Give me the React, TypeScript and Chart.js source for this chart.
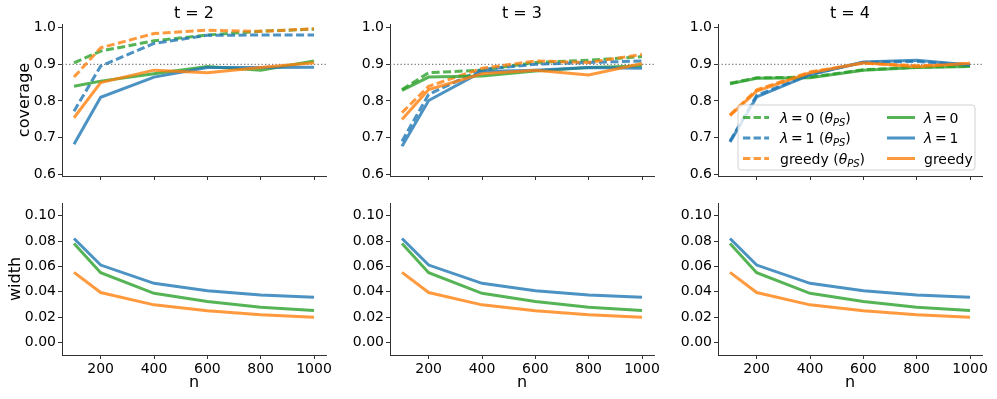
import React, { useEffect, useRef } from 'react';
import { Chart, registerables } from 'chart.js';

Chart.register(...registerables);

// ---------------- data ----------------
const nValues = [100, 200, 400, 600, 800, 1000];
const xTicks = [200, 400, 600, 800, 1000];
const coverageTicks = [0.6, 0.7, 0.8, 0.9, 1.0];
const widthTicks = [0, 0.02, 0.04, 0.06, 0.08, 0.1];
const tValues = [2, 3, 4];
const targetCoverage = 0.9;

// t = 2
const covT2Lam0PS = [0.904, 0.936, 0.964, 0.98, 0.99, 0.996];
const covT2Lam1PS = [0.772, 0.895, 0.957, 0.979, 0.98, 0.98];
const covT2GreedyPS = [0.865, 0.945, 0.984, 0.993, 0.99, 0.997];
const covT2Lam0 = [0.84, 0.854, 0.874, 0.894, 0.884, 0.909];
const covT2Lam1 = [0.682, 0.81, 0.865, 0.891, 0.891, 0.892];
const covT2Greedy = [0.754, 0.85, 0.884, 0.877, 0.891, 0.904];

// t = 3
const covT3Lam0PS = [0.831, 0.877, 0.884, 0.905, 0.911, 0.921];
const covT3Lam1PS = [0.69, 0.818, 0.886, 0.9, 0.905, 0.909];
const covT3GreedyPS = [0.768, 0.84, 0.889, 0.909, 0.905, 0.927];
const covT3Lam0 = [0.829, 0.865, 0.868, 0.882, 0.891, 0.895];
const covT3Lam1 = [0.676, 0.801, 0.88, 0.884, 0.891, 0.889];
const covT3Greedy = [0.749, 0.831, 0.874, 0.884, 0.871, 0.902];

// t = 4
const covT4Lam0PS = [0.848, 0.863, 0.865, 0.885, 0.892, 0.895];
const covT4Lam1PS = [0.69, 0.815, 0.873, 0.905, 0.908, 0.897];
const covT4GreedyPS = [0.762, 0.83, 0.879, 0.903, 0.896, 0.902];
const covT4Lam0 = [0.847, 0.862, 0.863, 0.884, 0.891, 0.894];
const covT4Lam1 = [0.688, 0.811, 0.871, 0.906, 0.911, 0.898];
const covT4Greedy = [0.76, 0.827, 0.877, 0.904, 0.893, 0.903];

// interval width (same for every t)
const widthLam0 = [0.078, 0.055, 0.0387, 0.0322, 0.0277, 0.0251];
const widthLam1 = [0.082, 0.061, 0.0466, 0.0408, 0.0374, 0.0356];
const widthGreedy = [0.0552, 0.0393, 0.0296, 0.0249, 0.0217, 0.0199];

const coverageByT = [
  { ps: [covT2Lam0PS, covT2Lam1PS, covT2GreedyPS], plain: [covT2Lam0, covT2Lam1, covT2Greedy] },
  { ps: [covT3Lam0PS, covT3Lam1PS, covT3GreedyPS], plain: [covT3Lam0, covT3Lam1, covT3Greedy] },
  { ps: [covT4Lam0PS, covT4Lam1PS, covT4GreedyPS], plain: [covT4Lam0, covT4Lam1, covT4Greedy] },
];
const widthSeries = [widthLam0, widthLam1, widthGreedy];

// ---------------- styles ----------------
const FONT = "'DejaVu Sans', sans-serif";
const COLORS = ['rgba(44,160,44,0.8)', 'rgba(31,119,180,0.8)', 'rgba(255,127,14,0.8)'];
const DASH = [8, 3.5];
const LW = 3;
const AXIS = '#333333';

const PLOT_W = 264;
const PLOT_H = 152;
const Y_AXIS_W = 62;
const RIGHT_PAD = 14;
const TOP_PAD = 24;
const PLOT_LEFTS = [62, 390, 718];
const ROW_CANVAS_TOP = [0, 179];
const ROW_XAXIS_H = [26, 44];
const ROW_YTITLE_PAD = [15, 6.5];

type Part = { t: string; i?: boolean; sub?: boolean };

function drawRich(ctx: CanvasRenderingContext2D, x: number, y: number, parts: Part[]) {
  let cx = x;
  for (const p of parts) {
    const size = p.sub ? 10 : 14;
    ctx.font = `${p.i ? 'italic ' : ''}${size}px ${FONT}`;
    ctx.fillText(p.t, cx, y + (p.sub ? 3 : 0));
    cx += ctx.measureText(p.t).width;
  }
}

const legendEntries: { parts: Part[]; color: string; dashed: boolean }[][] = [
  [
    { parts: [{ t: 'λ', i: true }, { t: '\u2009=\u20090 (' }, { t: 'θ', i: true }, { t: 'PS', i: true, sub: true }, { t: ')' }], color: COLORS[0], dashed: true },
    { parts: [{ t: 'λ', i: true }, { t: '\u2009=\u20091 (' }, { t: 'θ', i: true }, { t: 'PS', i: true, sub: true }, { t: ')' }], color: COLORS[1], dashed: true },
    { parts: [{ t: 'greedy (' }, { t: 'θ', i: true }, { t: 'PS', i: true, sub: true }, { t: ')' }], color: COLORS[2], dashed: true },
  ],
  [
    { parts: [{ t: 'λ', i: true }, { t: '\u2009=\u20090' }], color: COLORS[0], dashed: false },
    { parts: [{ t: 'λ', i: true }, { t: '\u2009=\u20091' }], color: COLORS[1], dashed: false },
    { parts: [{ t: 'greedy' }], color: COLORS[2], dashed: false },
  ],
];

const decoPlugin = {
  id: 'deco',
  beforeDatasetsDraw(chart: any, _args: any, opts: any) {
    if (opts.hline == null) return;
    const { ctx, chartArea } = chart;
    const y = chart.scales.y.getPixelForValue(opts.hline);
    ctx.save();
    ctx.strokeStyle = 'rgba(110,110,110,0.9)';
    ctx.lineWidth = 1.2;
    ctx.setLineDash([1.3, 2.2]);
    ctx.beginPath();
    ctx.moveTo(chartArea.left, y);
    ctx.lineTo(chartArea.right, y);
    ctx.stroke();
    ctx.restore();
  },
  afterDatasetsDraw(chart: any, _args: any, opts: any) {
    if (!opts.legend) return;
    const { ctx, chartArea } = chart;
    const L = chartArea.left;
    const T = chartArea.top;
    ctx.save();
    const bx = L + 20, by = T + 81, bw = 237, bh = 65, r = 3;
    ctx.beginPath();
    ctx.moveTo(bx + r, by);
    ctx.lineTo(bx + bw - r, by);
    ctx.arcTo(bx + bw, by, bx + bw, by + r, r);
    ctx.lineTo(bx + bw, by + bh - r);
    ctx.arcTo(bx + bw, by + bh, bx + bw - r, by + bh, r);
    ctx.lineTo(bx + r, by + bh);
    ctx.arcTo(bx, by + bh, bx, by + bh - r, r);
    ctx.lineTo(bx, by + r);
    ctx.arcTo(bx, by, bx + r, by, r);
    ctx.closePath();
    ctx.fillStyle = 'rgba(255,255,255,0.8)';
    ctx.fill();
    ctx.strokeStyle = 'rgba(204,204,204,0.9)';
    ctx.lineWidth = 1;
    ctx.stroke();
    const rowYs = [T + 93.5, T + 114, T + 134.5];
    const cols = [
      { x0: L + 25, x1: L + 51, tx: L + 62 },
      { x0: L + 169, x1: L + 197, tx: L + 206 },
    ];
    legendEntries.forEach((col, ci) => {
      col.forEach((e, ri) => {
        const y = rowYs[ri];
        ctx.strokeStyle = e.color;
        ctx.lineWidth = LW;
        ctx.setLineDash(e.dashed ? [7.3, 3.3] : []);
        ctx.beginPath();
        ctx.moveTo(cols[ci].x0, y);
        ctx.lineTo(cols[ci].x1, y);
        ctx.stroke();
        ctx.setLineDash([]);
        ctx.fillStyle = '#000';
        ctx.textBaseline = 'alphabetic';
        ctx.textAlign = 'left';
        drawRich(ctx, cols[ci].tx, y + 5, e.parts);
      });
    });
    ctx.restore();
  },
  afterDraw(chart: any, _args: any, opts: any) {
    if (!opts.title) return;
    const { ctx, chartArea } = chart;
    ctx.save();
    ctx.fillStyle = '#000';
    ctx.font = `16px ${FONT}`;
    ctx.textAlign = 'center';
    ctx.textBaseline = 'middle';
    ctx.fillText(opts.title, (chartArea.left + chartArea.right) / 2, 14);
    ctx.restore();
  },
};

function toPoints(arr: number[]) {
  return nValues.map((n, i) => ({ x: n, y: arr[i] }));
}

function buildConfig(row: number, col: number): any {
  const isBottom = row === 1;
  const datasets: any[] = [];
  if (!isBottom) {
    const c = coverageByT[col];
    c.ps.forEach((arr, k) => datasets.push({ data: toPoints(arr), borderColor: COLORS[k], borderWidth: LW, borderDash: DASH, pointRadius: 0, fill: false, tension: 0 }));
    c.plain.forEach((arr, k) => datasets.push({ data: toPoints(arr), borderColor: COLORS[k], borderWidth: LW, pointRadius: 0, fill: false, tension: 0 }));
  } else {
    widthSeries.forEach((arr, k) => datasets.push({ data: toPoints(arr), borderColor: COLORS[k], borderWidth: LW, pointRadius: 0, fill: false, tension: 0 }));
  }
  datasets.forEach((d, i) => { d.order = datasets.length - i; });

  const yTicks = isBottom ? widthTicks : coverageTicks;
  return {
    type: 'line',
    data: { datasets },
    plugins: [decoPlugin],
    options: {
      responsive: false,
      animation: false,
      events: [],
      layout: { padding: { top: TOP_PAD, left: 0, right: RIGHT_PAD, bottom: 0 } },
      plugins: {
        legend: { display: false },
        tooltip: { enabled: false },
        title: { display: false },
        deco: {
          hline: isBottom ? null : targetCoverage,
          legend: !isBottom && col === 2,
          title: isBottom ? '' : `t = ${tValues[col]}`,
        },
      },
      scales: {
        x: {
          type: 'linear',
          min: 55,
          max: 1045,
          afterBuildTicks: (s: any) => { s.ticks = xTicks.map((v) => ({ value: v })); },
          afterFit: (s: any) => { s.height = ROW_XAXIS_H[row]; },
          ticks: {
            display: isBottom,
            autoSkip: false,
            maxRotation: 0,
            padding: 2,
            color: '#000',
            font: { family: FONT, size: 14 },
            callback: (v: any) => String(v),
          },
          grid: { display: true, drawOnChartArea: false, drawTicks: true, tickLength: 4, color: AXIS, lineWidth: 1 },
          border: { display: true, color: AXIS, width: 1 },
          title: isBottom
            ? { display: true, text: 'n', color: '#000', font: { family: FONT, size: 16 }, padding: { top: 0, bottom: 7 } }
            : { display: false },
        },
        y: {
          type: 'linear',
          min: isBottom ? -0.01 : 0.595,
          max: isBottom ? 0.11 : 1.01,
          afterBuildTicks: (s: any) => { s.ticks = yTicks.map((v) => ({ value: v })); },
          afterFit: (s: any) => { s.width = Y_AXIS_W; },
          ticks: {
            autoSkip: false,
            padding: 2,
            color: '#000',
            font: { family: FONT, size: 14 },
            callback: (v: any) => (isBottom ? Number(v).toFixed(2) : Number(v).toFixed(1)),
          },
          grid: { display: true, drawOnChartArea: false, drawTicks: true, tickLength: 4, color: AXIS, lineWidth: 1 },
          border: { display: true, color: AXIS, width: 1 },
          title: col === 0
            ? { display: true, text: isBottom ? 'width' : 'coverage', color: '#000', font: { family: FONT, size: 16 }, padding: { top: ROW_YTITLE_PAD[row], bottom: 0 } }
            : { display: false },
        },
      },
    },
  };
}

function Panel({ row, col }: { row: number; col: number }) {
  const ref = useRef<HTMLCanvasElement | null>(null);
  const w = Y_AXIS_W + PLOT_W + RIGHT_PAD;
  const h = TOP_PAD + PLOT_H + ROW_XAXIS_H[row];
  useEffect(() => {
    if (!ref.current) return;
    const chart = new Chart(ref.current, buildConfig(row, col));
    return () => chart.destroy();
  }, [row, col]);
  return (
    <canvas
      ref={ref}
      width={w}
      height={h}
      style={{
        position: 'absolute',
        left: PLOT_LEFTS[col] - Y_AXIS_W,
        top: ROW_CANVAS_TOP[row],
        width: w,
        height: h,
      }}
    />
  );
}

export default function App() {
  return (
    <div
      style={{
        position: 'absolute',
        left: 0,
        top: 0,
        width: 997,
        height: 399,
        overflow: 'hidden',
        background: '#fff',
      }}
    >
      {[0, 1].map((row) => [0, 1, 2].map((col) => <Panel key={`${row}-${col}`} row={row} col={col} />))}
    </div>
  );
}
